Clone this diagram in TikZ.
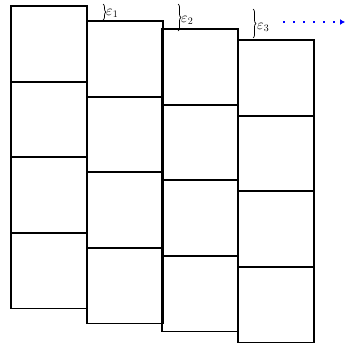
\documentclass[tikz,border=0pt]{standalone}
\usetikzlibrary{arrows.meta,decorations.pathreplacing}
\begin{document}
\begin{tikzpicture}[x=1pt, y=-1pt,
  cell/.style={draw, line width=1.4pt, minimum width=76pt, minimum height=76pt, inner sep=0pt, outer sep=0pt, anchor=north west},
  gapbrace/.style={decorate, decoration={brace, amplitude=3pt}, line width=0.7pt},
  lbl/.style={font=\Large, inner sep=0pt, anchor=west},
  drift/.style={blue, line width=1.5pt, dash pattern=on 1.5pt off 8.5pt, -{Latex[length=5pt, width=6pt]}}
]
\useasboundingbox (0,0) rectangle (346,343);
% four columns of cells, each shifted down
\foreach \c/\xx/\ty in {1/11/6, 2/87/21, 3/162/29, 4/238/40}
  \foreach \r in {1,...,4}
    \node[cell] (s\c\r) at (\xx, {\ty+75.5*(\r-1)}) {};

% braces for the shifts
\coordinate (b1a) at (103,4);
\coordinate (b1b) at (103,20);
\coordinate (b2a) at (178,4);
\coordinate (b2b) at (178,31);
\coordinate (b3a) at (253,9);
\coordinate (b3b) at (253,38);
\draw[gapbrace] (b1a) -- (b1b);
\draw[gapbrace] (b2a) -- (b2b);
\draw[gapbrace] (b3a) -- (b3b);
\node[lbl] (e1) at (106,13) {$\varepsilon_1$};
\node[lbl] (e2) at (181,20) {$\varepsilon_2$};
\node[lbl] (e3) at (257,27) {$\varepsilon_3$};

% and so on
\coordinate (d0) at (283,22);
\coordinate (d1) at (345,22);
\draw[drift] (d0) -- (d1);
\end{tikzpicture}
\end{document}
